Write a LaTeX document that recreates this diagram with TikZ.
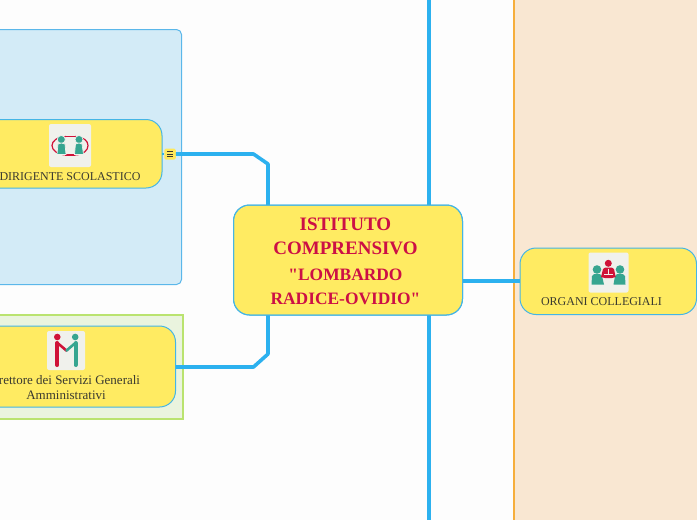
\documentclass[tikz,border=0pt]{standalone}
\usepackage{fontspec}
\setmainfont{Liberation Serif}
\newcommand{\straightquote}{\XeTeXglyph\XeTeXcharglyph"22\relax}
\definecolor{pagebg}{HTML}{FDFDFD}
\definecolor{wire}{HTML}{2CB1EF}
\definecolor{boxfill}{HTML}{FFEB62}
\definecolor{boxline}{HTML}{45B5E5}
\definecolor{bluepanel}{HTML}{D3EBF7}
\definecolor{bluepanelline}{HTML}{5BB7EA}
\definecolor{greenpanel}{HTML}{EAF4DE}
\definecolor{greenpanelline}{HTML}{BAE36F}
\definecolor{orangepanel}{HTML}{F9E7D2}
\definecolor{orangepanelline}{HTML}{F6AE3C}
\definecolor{titlered}{HTML}{CC0F45}
\definecolor{textdark}{HTML}{3A3A30}
\definecolor{icongreen}{HTML}{36A590}
\definecolor{iconred}{HTML}{CF1238}
\definecolor{iconbg}{HTML}{F0F1EC}
\definecolor{markerfill}{HTML}{FFE95A}
\tikzset{
  x=1pt,y=-1pt,
  wirepath/.style={draw=wire,line width=3.6pt,line join=round},
  thinwire/.style={draw=wire,line width=3.4pt},
  boxnode/.style={draw=boxline,fill=boxfill,line width=1pt,rounded corners=16pt,inner sep=0pt,outer sep=0pt,anchor=north west},
  labeltext/.style={font=\fontsize{12}{15.5}\selectfont,text=textdark,align=center,inner sep=0pt},
  biglabel/.style={font=\fontsize{13}{15}\selectfont,text=textdark,align=center,inner sep=0pt},
  bigtitle/.style={font=\fontsize{19}{24}\selectfont\bfseries,text=titlered,align=center,inner sep=0pt},
  subtitle/.style={font=\fontsize{17.4}{24}\selectfont\bfseries,text=titlered,align=center,inner sep=0pt},
  iconbox/.style={fill=iconbg,rounded corners=2pt,draw=none,inner sep=0pt,outer sep=0pt,anchor=north west},
  figa/.style={fill=icongreen,draw=iconbg,line width=.7pt},
}
\begin{document}
\begin{tikzpicture}
\useasboundingbox (0,0) rectangle (697,520);
\clip (0,0) rectangle (697,520);
\fill[pagebg] (0,0) rectangle (697,520);
% panels
\draw[draw=orangepanelline,fill=orangepanel,line width=2pt] (514,-5) rectangle (705,525);
\draw[draw=bluepanelline,fill=bluepanel,line width=1pt,rounded corners=5pt] (-10,29.5) rectangle (181.5,284.5);
\draw[draw=greenpanelline,fill=greenpanel,line width=2pt] (-10,315) rectangle (182.5,418.5);
% free ends of the vertical line
\coordinate (topend) at (429,-3);
\coordinate (bottomend) at (429,523);
% nodes
\node[boxnode,minimum width=229pt,minimum height=110pt] (main) at (233.5,205) {};
\node[boxnode,minimum width=192pt,minimum height=68.5pt] (dir) at (-30,119.5) {};
\node[boxnode,minimum width=225.5pt,minimum height=81pt] (dsga) at (-50,326) {};
\node[boxnode,minimum width=176.5pt,minimum height=66.5pt] (organi) at (520,248) {};
\node[fill=markerfill,rounded corners=1.5pt,minimum width=11.5pt,minimum height=11pt,inner sep=0pt,outer sep=0pt] (marker) at (170,154) {};
% connectors
\draw[wirepath] (marker.east) -- (253.5,154) -- (268,164) -- (main.north -| 268,0);
\draw[wirepath] (dsga.east |- 0,367) -- (253.5,367) -- (268,354) -- (main.south -| 268,0);
\draw[thinwire] (topend) -- (main.north -| topend);
\draw[thinwire] (main.south -| bottomend) -- (bottomend);
\draw[wirepath] (main.east |- 0,281) -- (organi.west |- 0,281);
\draw[draw=wire,line width=1.4pt] (dir.east |- marker.west) -- (marker.west);
% box edges over connectors
\draw[boxline,line width=1pt,rounded corners=16pt] (main.north west) rectangle (main.south east);
% marker glyph
\foreach \yy in {151.5,154,156.5}{\draw[textdark,line width=.8pt] (167,\yy) -- (173,\yy);}
% titles
\node[bigtitle] (t1) at (345.5,224.5) {ISTITUTO};
\node[bigtitle] (t2) at (345.5,248) {COMPRENSIVO};
\node[subtitle] (t3) at (345.5,274.5) {\straightquote LOMBARDO};
\node[subtitle] (t4) at (345.5,299) {RADICE-OVIDIO\straightquote};
\node[labeltext] (dirlabel) at (70,176.5) {DIRIGENTE SCOLASTICO};
\node[biglabel,anchor=north] (dsgalabel) at (66,375) {Direttore dei Servizi Generali\hspace*{6pt}\\Amministrativi};
\node[labeltext] (orglabel) at (601.5,301.5) {ORGANI COLLEGIALI};
% icon: dirigente
\node[iconbox,minimum width=42pt,minimum height=43pt] (icona) at (49,124) {};
\draw[iconred,line width=1.2pt] (66,136.5) .. controls (57,137) and (52,141) .. (52,145.5) .. controls (52,150) and (57,154.5) .. (66,155);
\draw[iconred,line width=1.2pt] (75,136.5) .. controls (84,137) and (88,141) .. (88,145.5) .. controls (88,150) and (84,154.5) .. (75,155);
\draw[iconred,line width=1.2pt] (65,136.5) -- (75,136.5) (65,155) -- (75,155);
\draw[figa] (61.3,139.5) circle (4);
\draw[figa] (79,139.5) circle (4);
\draw[figa] (57,154.5) -- (58,144) -- (61.3,143) -- (65,144) -- (66,154.5) -- cycle;
\draw[figa] (74.5,154.5) -- (75.5,144) -- (79,143) -- (82,144) -- (83.5,154.5) -- cycle;
% icon: dsga
\node[iconbox,minimum width=38pt,minimum height=39pt] (iconb) at (47,331) {};
\fill[iconred] (57.3,337) circle (3.3);
\fill[icongreen] (75.2,337) circle (3.3);
\draw[iconred,line width=4pt,line cap=round] (57.3,343) -- (57.3,365);
\draw[icongreen,line width=4pt,line cap=round] (75.5,343) -- (75.5,365);
\draw[iconred,line width=2.6pt] (57.5,343) -- (67,351);
\draw[icongreen,line width=2.6pt] (75.3,343) -- (66,351);
% icon: organi
\node[iconbox,minimum width=40pt,minimum height=40pt] (iconc) at (588.5,252.5) {};
\fill[icongreen] (597,269.5) circle (4.3);
\fill[icongreen] (620,269.5) circle (4.3);
\fill[icongreen] (591.5,284.5) -- (592,276) -- (594,274) -- (600,274) -- (602,276) -- (604,284.5) -- cycle;
\fill[icongreen] (613.5,284.5) -- (615,276) -- (617,274) -- (623,274) -- (625,276) -- (625.5,284.5) -- cycle;
\fill[iconred] (608.3,263.3) circle (3.5);
\fill[iconred] (601,277) -- (603,269) -- (605,267.7) -- (612,267.7) -- (614,269) -- (615.7,277) -- (612,278) -- (605,278) -- cycle;
\draw[iconbg,line width=.7pt] (604,274.5) -- (613,274.5) (608.3,268.5) -- (608.3,274.5);
\end{tikzpicture}
\end{document}
